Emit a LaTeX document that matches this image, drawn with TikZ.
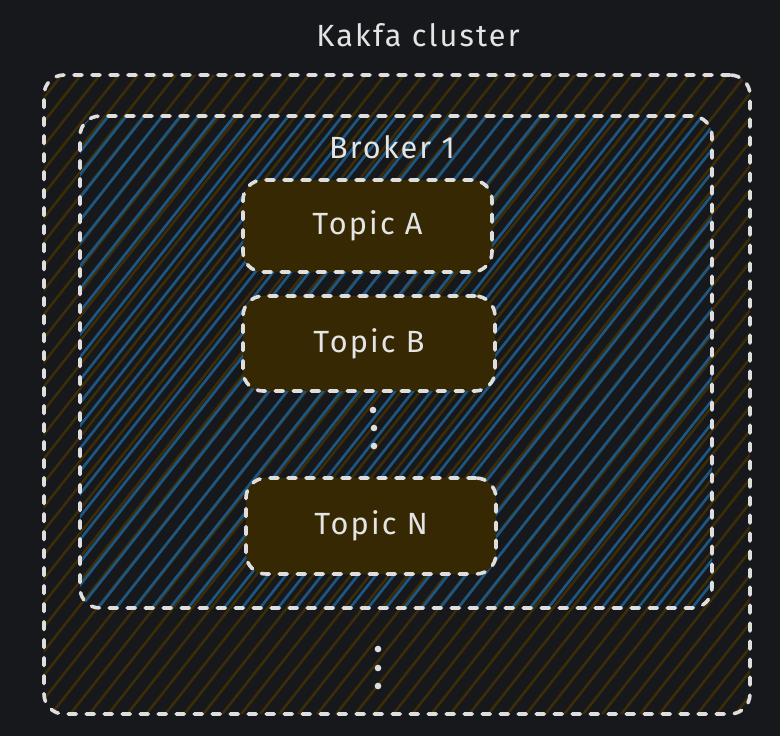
\documentclass[tikz,border=0pt]{standalone}
\usepackage{fontspec}
\setmainfont{Fira Sans}[LetterSpace=7]
\begin{document}
\begin{tikzpicture}[x=0.75pt,y=-0.75pt,
  every node/.style={text=txt},
  dashbox/.style={draw=strokec, line width=2.7pt, dash pattern=on 6pt off 7.5pt, line cap=round, rounded corners=15pt},
  topicbox/.style={dashbox, fill=topicfill, inner sep=0pt, font=\fontsize{23}{26}\selectfont},
  lbl/.style={font=\fontsize{23}{26}\selectfont, inner sep=0pt},
  dot/.style={circle, fill=strokec, inner sep=0pt, minimum size=5pt},
  brownh/.style={draw=hatchbrown, line width=1.9pt},
  blueh/.style={draw=hatchblue, line width=2pt}
]
\definecolor{bg}{RGB}{22,24,27}
\definecolor{strokec}{RGB}{222,222,222}
\definecolor{txt}{RGB}{228,228,228}
\definecolor{hatchbrown}{RGB}{60,45,6}
\definecolor{hatchblue}{RGB}{30,86,130}
\definecolor{topicfill}{RGB}{54,40,2}
\fill[bg] (0,0) rectangle (780,736);
\useasboundingbox (0,0) rectangle (780,736);
% cluster hatching
\begin{scope}
  \clip[rounded corners=15pt] (44,75) rectangle (750,714);
  \foreach \i in {-650,-631,...,800} {
    \draw[brownh] (\i,760) -- ++(600,-760);
  }
\end{scope}
% broker hatching
\begin{scope}
  \clip[rounded corners=15pt] (80,116) rectangle (712,608);
  \foreach \i in {-600,-582,...,800} {
    \draw[blueh] (\i+9,660) -- ++(521,-660);
  }
\end{scope}
% boxes
\node[dashbox, minimum width=529.5pt, minimum height=479.25pt] (cluster) at (397,394.5) {};
\node[dashbox, minimum width=474pt, minimum height=369pt] (broker) at (396,362) {};
% labels
\node[lbl] (clusterlbl) at (418,35) {Kakfa cluster};
\node[lbl] (brokerlbl) at (392,147) {Broker 1};
% topics
\node[topicbox, minimum width=186.75pt, minimum height=69pt] (ta) at (367.5,226) {Topic A};
\node[topicbox, minimum width=189pt, minimum height=71.25pt] (tb) at (369,343.5) {Topic B};
\node[topicbox, minimum width=187.5pt, minimum height=72pt] (tn) at (371,526) {Topic N};
% dots
\node[dot] (d1) at (373,410) {};
\node[dot] (d2) at (374,428) {};
\node[dot] (d3) at (374,446) {};
\node[dot] (d4) at (378,649) {};
\node[dot] (d5) at (378,668) {};
\node[dot] (d6) at (378,686) {};
\end{tikzpicture}
\end{document}
